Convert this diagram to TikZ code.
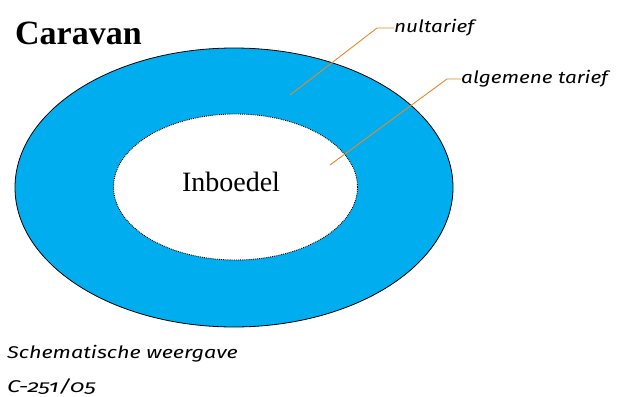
\documentclass[tikz,border=0pt]{standalone}
\usepackage{fontspec}
\usepackage{graphicx}
\setmainfont{Liberation Serif}
\newfontfamily\labfont[Numbers=OldStyle]{Fira Sans}
\usetikzlibrary{shapes.geometric}
\definecolor{ringblue}{HTML}{00AEEF}
\definecolor{leaderorange}{HTML}{E8872A}
\tikzset{
  ring/.style={ellipse, draw=black, line width=0.8pt, fill=ringblue, inner sep=0pt},
  hole/.style={ellipse, draw=black, densely dotted, line width=0.9pt, fill=white, inner sep=0pt},
  leader/.style={draw=leaderorange, line width=0.9pt},
  tag/.style={font=\labfont\itshape\fontsize{17}{20}\selectfont, anchor=west, inner sep=0pt},
  note/.style={font=\labfont\itshape\fontsize{17}{20}\selectfont, anchor=base west, inner sep=0pt}
}
\begin{document}
\begin{tikzpicture}[x=1pt,y=-1pt]
\useasboundingbox (0,0) rectangle (618,396);
\node[ring, minimum width=438pt, minimum height=279pt] (outer) at (234,187.5) {};
\node[hole, minimum width=244pt, minimum height=146pt] (inner) at (235.5,187) {};
\node[font=\fontsize{28}{32}\selectfont, anchor=base] (inb) at (231,191) {Inboedel};
\node[font=\bfseries\fontsize{34}{38}\selectfont, anchor=base west, inner sep=0pt] (title) at (15,45) {Caravan};
\node[tag] (nul) at (394,28) {\scalebox{1.22}[1]{nultarief}};
\node[tag] (alg) at (461,79) {\scalebox{1.22}[1]{algemene tarief}};
\coordinate (p1) at (290,95);
\coordinate (p2) at (330,165);
\draw[leader] (p1) -- (377,28) -- (nul.west);
\draw[leader] (p2) -- (447,79) -- (alg.west);
\node[note] (sch) at (7,358) {\scalebox{1.27}[1]{Schematische weergave}};
\node[note] (code) at (7,392) {\scalebox{1.4}[1]{C-251/05}};
\end{tikzpicture}
\end{document}
